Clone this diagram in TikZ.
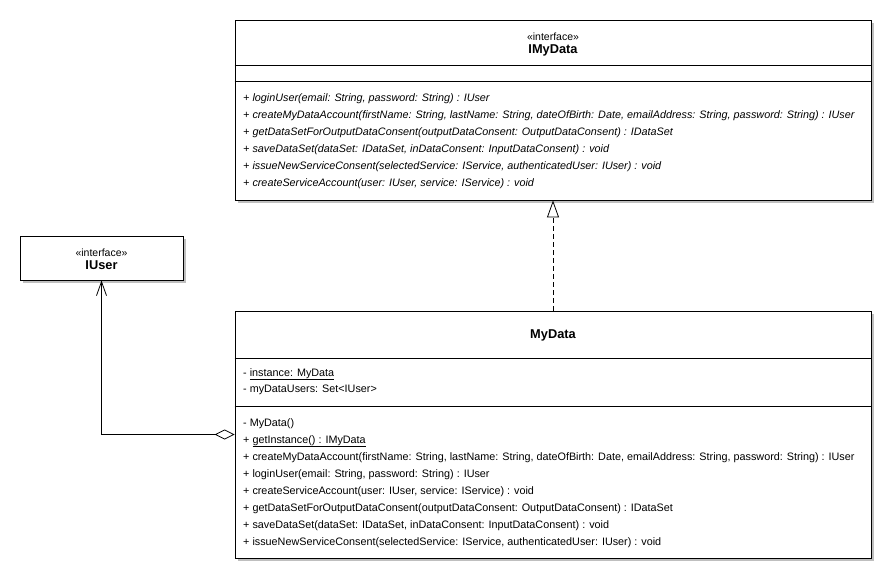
\documentclass[tikz,border=0pt]{standalone}
\usepackage{fontspec}
\setmainfont{Liberation Sans}
\usetikzlibrary{arrows.meta,shadows,positioning,calc}

\begin{document}
\begin{tikzpicture}[x=1pt, y=-1pt,
  classbox/.style={rectangle, draw, fill=white, line width=0.9pt, inner sep=0pt,
    drop shadow={shadow xshift=3pt, shadow yshift=-3pt, fill=black!25, opacity=1}},
  stereo/.style={inner sep=0pt, font=\fontsize{10.5}{11}\selectfont},
  cname/.style={inner sep=0pt, font=\fontsize{12.8}{14}\selectfont\bfseries},
  members/.style={anchor=north west, inner sep=0pt, align=left, font=\fontsize{10.8}{17}\selectfont},
  sep/.style={line width=0.9pt}]

\useasboundingbox (0,0) rectangle (896,583);

%Nodes
\node[classbox, minimum width=636pt, minimum height=180pt] (imydata) at (553,110) {};
\node[classbox, minimum width=163pt, minimum height=44pt]  (iuser)   at (101.5,258) {};
\node[classbox, minimum width=636pt, minimum height=247pt] (mydata)  at (553,434.5) {};

\node[stereo] (imydatastereo) at (553,37)    {«interface»};
\node[cname]  (imydataname)   at (553,50)    {IMyData};
\node[stereo] (iuserstereo)   at (101.5,253) {«interface»};
\node[cname]  (iusername)     at (101.5,265) {IUser};
\node[cname]  (mydataname)    at (553,335)   {MyData};

%Compartments
\draw[sep] (imydata.west |- 0,65)  -- (imydata.east |- 0,65);
\draw[sep] (imydata.west |- 0,81)  -- (imydata.east |- 0,81);
\draw[sep] (mydata.west |- 0,358)  -- (mydata.east |- 0,358);
\draw[sep] (mydata.west |- 0,406)  -- (mydata.east |- 0,406);

\node[members, font=\fontsize{10.8}{17}\selectfont\itshape] (imydataops) at (243,93) {%
+ loginUser(email: String, password: String) : IUser\\
+ createMyDataAccount(firstName: String, lastName: String, dateOfBirth: Date, emailAddress: String, password: String) : IUser\\
+ getDataSetForOutputDataConsent(outputDataConsent: OutputDataConsent) : IDataSet\\
+ saveDataSet(dataSet: IDataSet, inDataConsent: InputDataConsent) : void\\
+ issueNewServiceConsent(selectedService: IService, authenticatedUser: IUser) : void\\
+ createServiceAccount(user: IUser, service: IService) : void};

\node[members, font=\fontsize{10.8}{16}\selectfont] (mydataattrs) at (243,368) {%
- \underline{instance: MyData}\\
- myDataUsers: Set<IUser>};

\node[members] (mydataops) at (243,418) {%
- MyData()\\
+ \underline{getInstance() : IMyData}\\
+ createMyDataAccount(firstName: String, lastName: String, dateOfBirth: Date, emailAddress: String, password: String) : IUser\\
+ loginUser(email: String, password: String) : IUser\\
+ createServiceAccount(user: IUser, service: IService) : void\\
+ getDataSetForOutputDataConsent(outputDataConsent: OutputDataConsent) : IDataSet\\
+ saveDataSet(dataSet: IDataSet, inDataConsent: InputDataConsent) : void\\
+ issueNewServiceConsent(selectedService: IService, authenticatedUser: IUser) : void};

%Lines
\draw[line width=0.8pt, dash pattern=on 5pt off 3pt, -{Triangle[open, length=17pt, width=12pt]}] (mydata.north) -- (imydata.south);
\draw[line width=0.8pt, {Diamond[open, length=20pt, width=10pt]}-{Straight Barb[length=14pt, width=10pt]}] (mydata.west) -| (iuser.south);

\end{tikzpicture}
\end{document}
